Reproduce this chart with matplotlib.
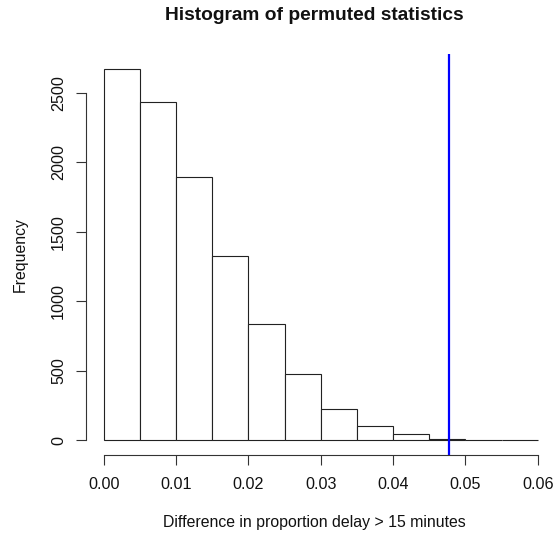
import matplotlib
matplotlib.use("Agg")
import matplotlib.pyplot as plt
import numpy as np

plt.rcParams['font.family'] = ['Liberation Sans', 'DejaVu Sans']

bin_edges = [0.000, 0.005, 0.010, 0.015, 0.020, 0.025, 0.030,
             0.035, 0.040, 0.045, 0.050, 0.055, 0.060]
counts = [2667, 2432, 1892, 1326, 835, 475, 222, 104, 46, 9, 3, 2]
observed = 0.0478
x_ticks = [0.00, 0.01, 0.02, 0.03, 0.04, 0.05, 0.06]
x_tick_labels = ["0.00", "0.01", "0.02", "0.03", "0.04", "0.05", "0.06"]
y_ticks = [0, 500, 1000, 1500, 2000, 2500]

W, H = 554, 535
fig = plt.figure(figsize=(W / 100, H / 100), dpi=100)
left_px, right_px, top_px, bot_px = 86.3, 555.1, 54.3, 455.0
ax = fig.add_axes([left_px / W, 1 - bot_px / H,
                   (right_px - left_px) / W, (bot_px - top_px) / H])

edges = np.array(bin_edges)
ax.bar(edges[:-1], counts, width=np.diff(edges), align='edge',
       facecolor='white', edgecolor='#222222', linewidth=0.8)
ax.axvline(observed, color='#0000FF', linewidth=1.6)

ax.set_xlim(-0.0024, 0.0624)
ax.set_ylim(-107, 2776)

for s in ['top', 'right']:
    ax.spines[s].set_visible(False)
ax.spines['left'].set_bounds(0, 2500)
ax.spines['bottom'].set_bounds(0, 0.06)
for s in ['left', 'bottom']:
    ax.spines[s].set_linewidth(0.8)
    ax.spines[s].set_color('#333333')

ax.set_xticks(x_ticks)
ax.set_xticklabels(x_tick_labels)
ax.set_yticks(y_ticks)
ax.set_yticklabels([str(v) for v in y_ticks], rotation=90, va='center')
ax.tick_params(direction='out', length=7.2, width=0.8, color='#333333',
               labelsize=11.6, labelcolor='#111111')
ax.tick_params(axis='x', pad=8.5)
ax.tick_params(axis='y', pad=7.5)

cx = 314.5 / W
fig.text(cx, 1 - 16 / H, "Histogram of permuted statistics", ha='center',
         va='center', fontsize=13.8, fontweight='bold', color='#111111')
fig.text(cx, 1 - 523 / H, "Difference in proportion delay > 15 minutes",
         ha='center', va='center', fontsize=11.45, color='#111111')
fig.text(20.5 / W, 1 - 254.6 / H, "Frequency", ha='center', va='center',
         rotation=90, fontsize=11.45, color='#111111')

fig.savefig("out.png", dpi=100)
